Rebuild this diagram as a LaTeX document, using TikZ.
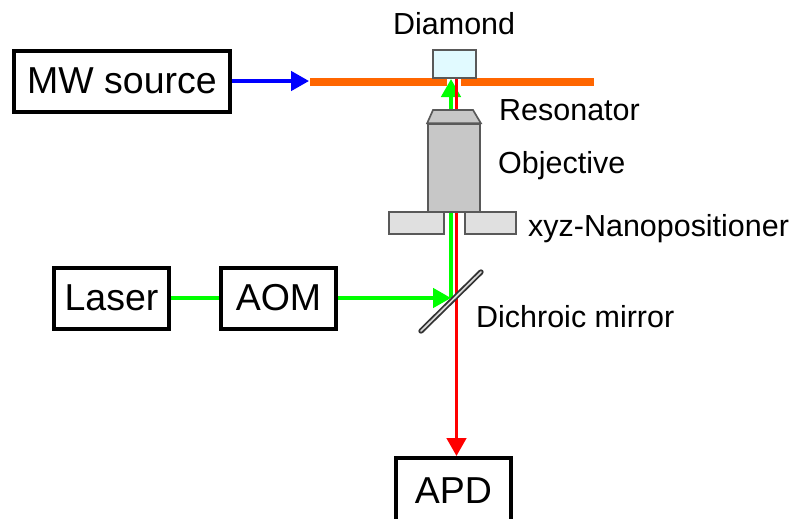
\documentclass[tikz,border=0pt]{standalone}
\usepackage{fontspec}
\setmainfont{Liberation Sans}
\usetikzlibrary{arrows.meta,positioning}
\definecolor{beamgreen}{RGB}{0,255,0}
\definecolor{resonatororange}{RGB}{255,102,0}
\definecolor{diamondblue}{RGB}{225,250,255}
\newcommand{\boxfont}{\fontsize{32}{36}\selectfont}
\newcommand{\labelfont}{\fontsize{26}{30}\selectfont}

\begin{document}
\begin{tikzpicture}
[x=0.03cm, y=-0.03cm,
block/.style={draw=black, line width=0.12cm, fill=white, minimum height=1.83cm, inner sep=0pt, text centered, font=\boxfont},
part/.style={draw=black!65, line width=0.05cm, inner sep=0pt},
caption/.style={anchor=west, inner sep=0pt, font=\labelfont},
arrow/.style={line width=0.11cm, -{Triangle[length=0.54cm,width=0.58cm]}},
]
\clip (0,0) rectangle (792,518);

% boxes
\node (source) [block, minimum width=6.48cm] at (122,81) {MW source};
\node (laser) [block, minimum width=3.45cm] at (111.5,298) {Laser};
\node (aom) [block, minimum width=3.45cm] at (278.5,298) {AOM};
\node (apd) [block, minimum width=3.45cm, minimum height=1.95cm] at (453.5,490.5) {APD};

% resonator
\coordinate (resleft) at (310,82);
\coordinate (resright) at (594,82);
\coordinate (gapleft) at (447,82);
\coordinate (gapright) at (461,82);
\coordinate (sourcetip) at (309,81);
\draw [line width=0.24cm, resonatororange] (resleft) -- (gapleft) (gapright) -- (resright);
\draw [arrow, blue] (source) -- (sourcetip);

% beams
\coordinate (greentop) at (451,79);
\coordinate (redtop) at (456.5,79);
\coordinate (greenbottom) at (451,298);
\draw [line width=0.12cm, beamgreen] (laser) -- (aom);
\draw [arrow, beamgreen] (aom) -- (greenbottom);
\draw [arrow, beamgreen] (greenbottom) -- (greentop);
\draw [arrow, red] (redtop) -- (apd.north -| redtop);

% diamond
\node (diamond) [part, fill=diamondblue, minimum width=1.29cm, minimum height=0.84cm] at (454.5,64) {};

% objective
\node (objective) [part, fill=black!22, minimum width=1.56cm, minimum height=2.64cm] at (454,168) {};
\draw [part, fill=black!22] (objective.north west) -- (433,110) coordinate (objtopleft) -- (473,110) coordinate (objtopright) -- (objective.north east) -- cycle;

% positioner
\node (posleft) [part, fill=black!12, minimum width=1.65cm, minimum height=0.66cm] at (416.5,223) {};
\node (posright) [part, fill=black!12, minimum width=1.53cm, minimum height=0.66cm] at (490.5,223) {};

% mirror
\coordinate (mirrorlow) at (421,331);
\coordinate (mirrorhigh) at (481,272);
\draw [line width=0.16cm, black!80, line cap=round] (mirrorlow) -- (mirrorhigh);
\draw [line width=0.05cm, black!15, line cap=round] (mirrorlow) -- (mirrorhigh);

% labels
\node (diamondlabel) [caption] at (393,24) {Diamond};
\node (resonatorlabel) [caption] at (499,110) {Resonator};
\node (objectivelabel) [caption] at (498,166) {Objective};
\node (poslabel) [caption] at (528,229) {xyz-Nanopositioner};
\node (mirrorlabel) [caption] at (476,317) {Dichroic mirror};

\end{tikzpicture}
\end{document}
